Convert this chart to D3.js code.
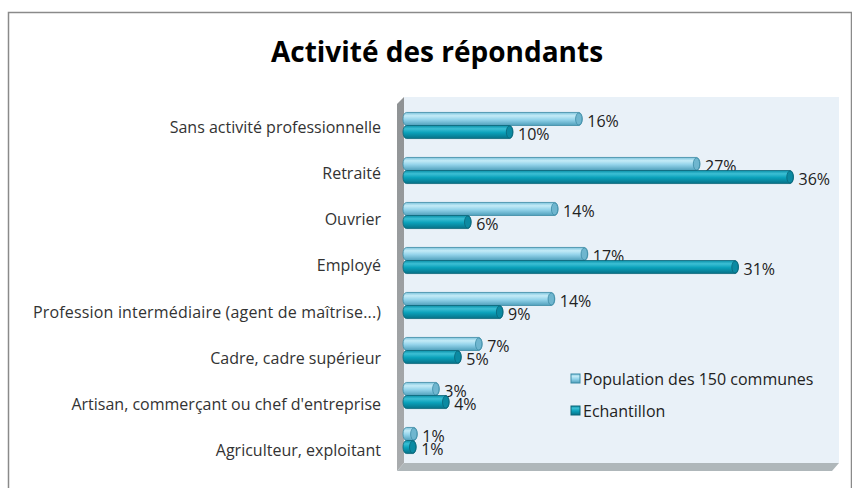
<!DOCTYPE html>
<html>
<head>
<meta charset="utf-8">
<script src="https://cdn.jsdelivr.net/npm/d3@7"></script>
<style>
  body { margin: 0; background: #fff; }
  text { font-family: "Open Sans", Lato, sans-serif; }
</style>
</head>
<body>
<div id="chart"></div>
<script>
// Data (fractions; labels are the rounded %)
var categories = ["Sans activité professionnelle", "Retraité", "Ouvrier", "Employé",
    "Profession intermédiaire (agent de maîtrise...)", "Cadre, cadre supérieur",
    "Artisan, commerçant ou chef d'entreprise", "Agriculteur, exploitant"];
var population = [0.163, 0.27, 0.141, 0.168, 0.138, 0.072, 0.033, 0.013];
var echantillon = [0.10, 0.355, 0.062, 0.305, 0.091, 0.053, 0.042, 0.012];
var seriesNames = ["Population des 150 communes", "Echantillon"];

var width = 852, height = 488;
var svg = d3.select("#chart").append("svg").attr("width", width).attr("height", height);
var defs = svg.append("defs");

// gradients for the cylinders
function grad(id, stops) {
    var g = defs.append("linearGradient").attr("id", id).attr("x1", 0).attr("y1", 0).attr("x2", 0).attr("y2", 1);
    stops.forEach(function(s) {
        g.append("stop").attr("offset", s[0]).attr("stop-color", s[1]);
    });
}
grad("gLight", [[0, "#7cc3dc"], [0.25, "#c4ebf7"], [0.55, "#93d3ea"], [1, "#4f9fbb"]]);
grad("gDark", [[0, "#0a8fa8"], [0.25, "#3cbfd4"], [0.55, "#0aa1ba"], [1, "#067086"]]);
grad("gWall", [[0, "#8f9294"], [1, "#a9acae"]]);

// outer frame
svg.append("rect").attr("x", 8.5).attr("y", 12.5).attr("width", 843).attr("height", 490)
    .attr("fill", "none").attr("stroke", "#8a8a8a").attr("stroke-width", 1.5);

svg.append("text").attr("x", 437).attr("y", 62).attr("text-anchor", "middle")
    .style("font-size", "28px").style("font-weight", "bold").attr("fill", "#000")
    .text("Activité des répondants");

// plot geometry
var depth = 7;
var plotL = 404, plotR = 839, plotT = 97, plotB = 463;

var y = d3.scaleBand().domain(categories).range([plotT + 6, plotB]).paddingInner(0.42).paddingOuter(0.21);
var x = d3.scaleLinear().domain([0, 0.40]).range([plotL - 1, plotL - 1 + 440]);
// axis labels sit on the front plane, so they are spread a bit wider
var yLab = d3.scalePoint().domain(categories).range([plotT + 31, plotB - 12]);

// back wall
svg.append("rect").attr("x", plotL).attr("y", plotT).attr("width", plotR - plotL).attr("height", plotB - plotT)
    .attr("fill", "#e9f1f8");
// side wall
svg.append("polygon").attr("points", [[plotL - depth, plotT + depth], [plotL, plotT], [plotL, plotB], [plotL - depth, plotB + 8]].join(" "))
    .attr("fill", "url(#gWall)");
// floor
svg.append("polygon").attr("points", [[plotL - depth, plotB + 8], [plotL, plotB], [plotR, plotB], [plotR - depth, plotB + 8]].join(" "))
    .attr("fill", "#afb7ba");

// category labels
svg.append("g").selectAll("text").data(categories).enter().append("text")
    .attr("x", 381).attr("y", function(d) { return yLab(d) + 5; })
    .attr("text-anchor", "end").style("font-size", "16px").attr("fill", "#333")
    .attr("textLength", function(d) { return d.length > 40 ? 348 : null; })
    .text(function(d) { return d; });

var bh = y.bandwidth() / 2;
var series = [
    { name: seriesNames[0], values: population, fill: "url(#gLight)", cap: "#6fb6cf", stroke: "#3b8aa5", off: 0 },
    { name: seriesNames[1], values: echantillon, fill: "url(#gDark)", cap: "#0b8aa2", stroke: "#0a6679", off: bh }
];

var fmt = d3.format(".0%");
series.forEach(function(s) {
    var g = svg.append("g");
    var bars = g.selectAll("g").data(categories).enter().append("g");
    bars.append("path")
        .attr("d", function(d, i) {
            var x0 = x(0), x1 = x(s.values[i]), y0 = y(d) + s.off, r = 3.5;
            return "M" + (x0 + r) + "," + y0 + "L" + (x1 - r) + "," + y0 +
                "A" + r + "," + (bh / 2) + " 0 0 1 " + (x1 - r) + "," + (y0 + bh) +
                "L" + (x0 + r) + "," + (y0 + bh) +
                "A" + r + "," + (bh / 2) + " 0 0 1 " + (x0 + r) + "," + y0 + "Z";
        })
        .attr("fill", s.fill).attr("stroke", s.stroke).attr("stroke-width", 0.8);
    bars.append("ellipse")
        .attr("cx", function(d, i) { return x(s.values[i]) - 3.5; })
        .attr("cy", function(d) { return y(d) + s.off + bh / 2; })
        .attr("rx", 3.2).attr("ry", bh / 2 - 0.5)
        .attr("fill", s.cap).attr("stroke", s.stroke).attr("stroke-width", 0.8);
    bars.append("text")
        .attr("x", function(d, i) { return x(s.values[i]) + 5; })
        .attr("y", function(d) { return y(d) + s.off + bh / 2 + 8; })
        .style("font-size", "16px").attr("fill", "#222")
        .text(function(d, i) { return fmt(Math.round(s.values[i] * 100) / 100); });
});

// legend
var legend = svg.append("g").selectAll("g").data(series).enter().append("g")
    .attr("transform", function(d, i) { return "translate(571," + (374 + i * 32) + ")"; });
legend.append("rect").attr("width", 9).attr("height", 9)
    .attr("fill", function(d) { return d.fill; }).attr("stroke", function(d) { return d.stroke; });
legend.append("text").attr("x", 12).attr("y", 11).style("font-size", "16px").attr("fill", "#222")
    .text(function(d) { return d.name; });
</script>
</body>
</html>
